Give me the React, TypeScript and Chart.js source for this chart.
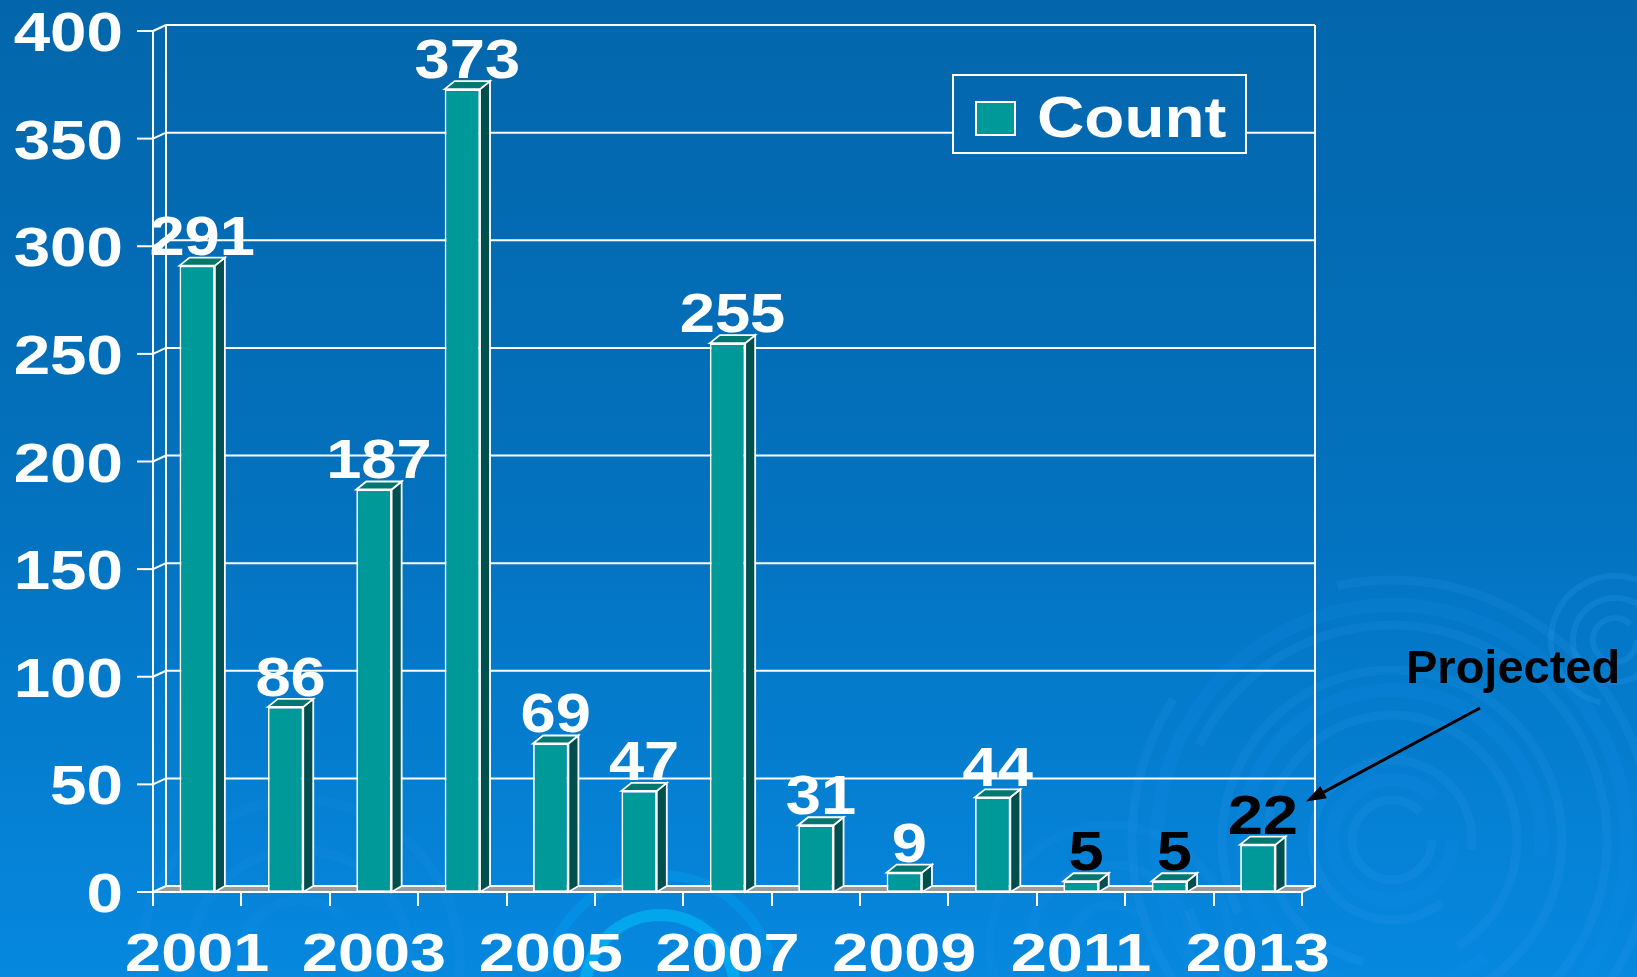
import React, { useEffect, useRef } from "react";
import { Chart, registerables } from "chart.js";

Chart.register(...registerables);

// ---- data ----
const years = ["2001", "2002", "2003", "2004", "2005", "2006", "2007", "2008", "2009", "2010", "2011", "2012", "2013"];
const counts = [291, 86, 187, 373, 69, 47, 255, 31, 9, 44, 5, 5, 22];
const yTickValues = [0, 50, 100, 150, 200, 250, 300, 350, 400];
const xTickLabels = ["2001", "2003", "2005", "2007", "2009", "2011", "2013"];
const seriesName = "Count";
const annotationText = "Projected";
const darkLabelYears = ["2011", "2012", "2013"];

// ---- style ----
const W = 1637;
const H = 977;
const FONT = '"Liberation Sans", Arial, Helvetica, sans-serif';
const WALL_DX = 13;
const WALL_DY = -6;
const BAR_DX = 10;
const BAR_DY = -8;
const TEAL = "#009999";
const TEAL_TOP = "#00776F";
const TEAL_SIDE = "#004F4F";
const FLOOR = "#9C9C9C";

function makeBg(ctx: CanvasRenderingContext2D) {
  const g = ctx.createLinearGradient(0, 0, 0, H);
  g.addColorStop(0, "#0366AB");
  g.addColorStop(0.5, "#0371BD");
  g.addColorStop(1, "#0688DF");
  return g;
}

function txt(
  ctx: CanvasRenderingContext2D,
  text: string,
  x: number,
  y: number,
  size: number,
  color: string,
  align: CanvasTextAlign,
  sx: number
) {
  ctx.save();
  ctx.font = `bold ${size}px ${FONT}`;
  ctx.fillStyle = color;
  ctx.textAlign = align;
  ctx.textBaseline = "alphabetic";
  ctx.translate(x, y);
  ctx.scale(sx, 1);
  ctx.fillText(text, 0, 0);
  ctx.restore();
}

function rings(ctx: CanvasRenderingContext2D, cx: number, cy: number, radii: number[], color: string, lw: number) {
  ctx.save();
  ctx.strokeStyle = color;
  ctx.lineWidth = lw;
  radii.forEach((r, i) => {
    ctx.beginPath();
    const a0 = (i * 0.9) % (Math.PI * 2);
    ctx.arc(cx, cy, r, a0, a0 + Math.PI * 1.75);
    ctx.stroke();
  });
  ctx.restore();
}

const backgroundPlugin = {
  id: "bg",
  beforeDraw(chart: any) {
    const ctx: CanvasRenderingContext2D = chart.ctx;
    ctx.save();
    ctx.fillStyle = makeBg(ctx);
    ctx.fillRect(0, 0, W, H);
    // decorative ripples
    rings(ctx, 1392, 840, [40, 80, 125, 170, 215, 260], "rgba(60,165,250,0.13)", 9);
    rings(ctx, 1392, 840, [60, 150, 235], "rgba(20,140,235,0.2)", 14);
    rings(ctx, 1615, 640, [22, 42, 64], "rgba(70,175,255,0.16)", 6);
    rings(ctx, 300, 960, [60, 110, 160], "rgba(40,150,240,0.12)", 10);
    rings(ctx, 1110, 945, [40, 80, 120], "rgba(40,150,240,0.12)", 9);
    ctx.save();
    ctx.strokeStyle = "rgba(0,200,255,0.5)";
    ctx.lineWidth = 12;
    ctx.beginPath();
    ctx.arc(660, 990, 75, Math.PI * 1.0, Math.PI * 1.95);
    ctx.stroke();
    ctx.strokeStyle = "rgba(0,170,250,0.3)";
    ctx.lineWidth = 10;
    ctx.beginPath();
    ctx.arc(660, 990, 115, Math.PI * 1.05, Math.PI * 1.9);
    ctx.stroke();
    ctx.restore();
    ctx.restore();
  },
};

const wallPlugin = {
  id: "walls",
  beforeDatasetsDraw(chart: any) {
    const ctx: CanvasRenderingContext2D = chart.ctx;
    const xs = chart.scales.x;
    const ys = chart.scales.y;
    const L = chart.chartArea.left;
    const R = chart.chartArea.right;
    const y0 = ys.getPixelForValue(0);
    const yTop = ys.getPixelForValue(400);
    ctx.save();
    // floor
    ctx.fillStyle = FLOOR;
    ctx.beginPath();
    ctx.moveTo(L, y0);
    ctx.lineTo(R, y0);
    ctx.lineTo(R + WALL_DX, y0 + WALL_DY);
    ctx.lineTo(L + WALL_DX, y0 + WALL_DY);
    ctx.closePath();
    ctx.fill();

    ctx.strokeStyle = "#ffffff";
    ctx.lineWidth = 2;
    yTickValues.forEach((v) => {
      const y = ys.getPixelForValue(v);
      ctx.beginPath();
      ctx.moveTo(L + WALL_DX, y + WALL_DY);
      ctx.lineTo(R + WALL_DX, y + WALL_DY);
      ctx.stroke();
      ctx.beginPath();
      ctx.moveTo(L, y);
      ctx.lineTo(L + WALL_DX, y + WALL_DY);
      ctx.stroke();
      ctx.beginPath();
      ctx.moveTo(L - 16, y);
      ctx.lineTo(L, y);
      ctx.stroke();
    });
    ctx.beginPath();
    ctx.moveTo(L + WALL_DX, yTop + WALL_DY);
    ctx.lineTo(L + WALL_DX, y0 + WALL_DY);
    ctx.moveTo(R + WALL_DX, yTop + WALL_DY);
    ctx.lineTo(R + WALL_DX, y0 + WALL_DY);
    ctx.lineTo(R, y0);
    ctx.moveTo(L, yTop);
    ctx.lineTo(L, y0 + 14);
    ctx.stroke();
    ctx.beginPath();
    ctx.moveTo(L, y0);
    ctx.lineTo(R, y0);
    ctx.stroke();
    const n = years.length;
    const step = (R - L) / n;
    for (let k = 0; k <= n; k++) {
      const x = Math.round(xs.getPixelForValue(0) - step / 2 + k * step);
      ctx.beginPath();
      ctx.moveTo(x, y0);
      ctx.lineTo(x, y0 + 14);
      ctx.stroke();
    }
    ctx.restore();
  },
};

const overlayPlugin = {
  id: "overlay",
  afterDatasetsDraw(chart: any) {
    const ctx: CanvasRenderingContext2D = chart.ctx;
    const xs = chart.scales.x;
    const ys = chart.scales.y;
    const L = chart.chartArea.left;
    const R = chart.chartArea.right;
    const meta = chart.getDatasetMeta(0);
    ctx.save();
    ctx.lineJoin = "miter";
    meta.data.forEach((bar: any) => {
      const p = bar.getProps(["x", "y", "width", "base"], true);
      const left = p.x - p.width / 2;
      const right = p.x + p.width / 2;
      const top = p.y;
      const base = p.base;
      ctx.strokeStyle = "#ffffff";
      ctx.lineWidth = 1.8;
      ctx.fillStyle = TEAL_SIDE;
      ctx.beginPath();
      ctx.moveTo(right, top);
      ctx.lineTo(right + BAR_DX, top + BAR_DY);
      ctx.lineTo(right + BAR_DX, base + BAR_DY + 2);
      ctx.lineTo(right, base);
      ctx.closePath();
      ctx.fill();
      ctx.stroke();
      ctx.fillStyle = TEAL_TOP;
      ctx.beginPath();
      ctx.moveTo(left, top);
      ctx.lineTo(left + BAR_DX, top + BAR_DY);
      ctx.lineTo(right + BAR_DX, top + BAR_DY);
      ctx.lineTo(right, top);
      ctx.closePath();
      ctx.fill();
      ctx.stroke();
    });
    meta.data.forEach((bar: any, i: number) => {
      const p = bar.getProps(["x", "y"], true);
      const color = darkLabelYears.includes(years[i]) ? "#000000" : "#ffffff";
      txt(ctx, String(counts[i]), p.x + BAR_DX / 2, p.y + BAR_DY - 3, 55, color, "center", 1.15);
    });

    yTickValues.forEach((v) => {
      const y = ys.getPixelForValue(v);
      txt(ctx, String(v), L - 30, y + 20, 56, "#ffffff", "right", 1.17);
    });
    xTickLabels.forEach((lab) => {
      const idx = years.indexOf(lab);
      const x = xs.getPixelForValue(idx);
      txt(ctx, lab, x, ys.getPixelForValue(0) + 79, 54, "#ffffff", "center", 1.2);
    });

    // legend
    const lx = 953, ly = 75, lw = 293, lh = 78;
    ctx.fillStyle = makeBg(ctx);
    ctx.fillRect(lx, ly, lw, lh);
    ctx.strokeStyle = "#ffffff";
    ctx.lineWidth = 2;
    ctx.strokeRect(lx, ly, lw, lh);
    ctx.fillStyle = TEAL;
    ctx.fillRect(lx + 23, ly + 27, 39, 33);
    ctx.strokeRect(lx + 23, ly + 27, 39, 33);
    txt(ctx, seriesName, lx + 84, ly + 62, 57, "#ffffff", "left", 1.15);

    // annotation
    txt(ctx, annotationText, R + 104, 683, 47, "#000000", "left", 1.0);
    const tipX = R + 4;
    const tipY = ys.getPixelForValue(42);
    const sx = R + 178;
    const sy = 708;
    ctx.strokeStyle = "#000000";
    ctx.fillStyle = "#000000";
    ctx.lineWidth = 3;
    const ang = Math.atan2(tipY - sy, tipX - sx);
    const hl = 20;
    const hw = 7;
    const bx = tipX - hl * Math.cos(ang);
    const by = tipY - hl * Math.sin(ang);
    ctx.beginPath();
    ctx.moveTo(sx, sy);
    ctx.lineTo(bx, by);
    ctx.stroke();
    ctx.beginPath();
    ctx.moveTo(tipX, tipY);
    ctx.lineTo(bx + hw * Math.sin(ang), by - hw * Math.cos(ang));
    ctx.lineTo(bx - hw * Math.sin(ang), by + hw * Math.cos(ang));
    ctx.closePath();
    ctx.fill();
    ctx.restore();
  },
};

export default function App() {
  const ref = useRef<HTMLCanvasElement | null>(null);
  useEffect(() => {
    if (!ref.current) return;
    const chart = new Chart(ref.current, {
      type: "bar",
      data: {
        labels: years,
        datasets: [
          {
            label: seriesName,
            data: counts,
            backgroundColor: TEAL,
            borderColor: "#ffffff",
            borderWidth: 1.8,
            borderSkipped: false,
            barPercentage: 0.4,
            categoryPercentage: 1.0,
          },
        ],
      },
      options: {
        responsive: false,
        animation: false,
        devicePixelRatio: 1,
        layout: { padding: { left: 153, right: W - 1302, top: 31, bottom: H - 892 } },
        plugins: { legend: { display: false }, tooltip: { enabled: false } },
        scales: {
          x: { display: false, offset: true },
          y: { display: false, min: 0, max: 400 },
        },
      },
      plugins: [backgroundPlugin, wallPlugin, overlayPlugin],
    });
    return () => chart.destroy();
  }, []);
  return (
    <div style={{ position: "fixed", left: 0, top: 0, width: W, height: H }}>
      <canvas ref={ref} width={W} height={H} style={{ display: "block", width: W, height: H }} />
    </div>
  );
}
